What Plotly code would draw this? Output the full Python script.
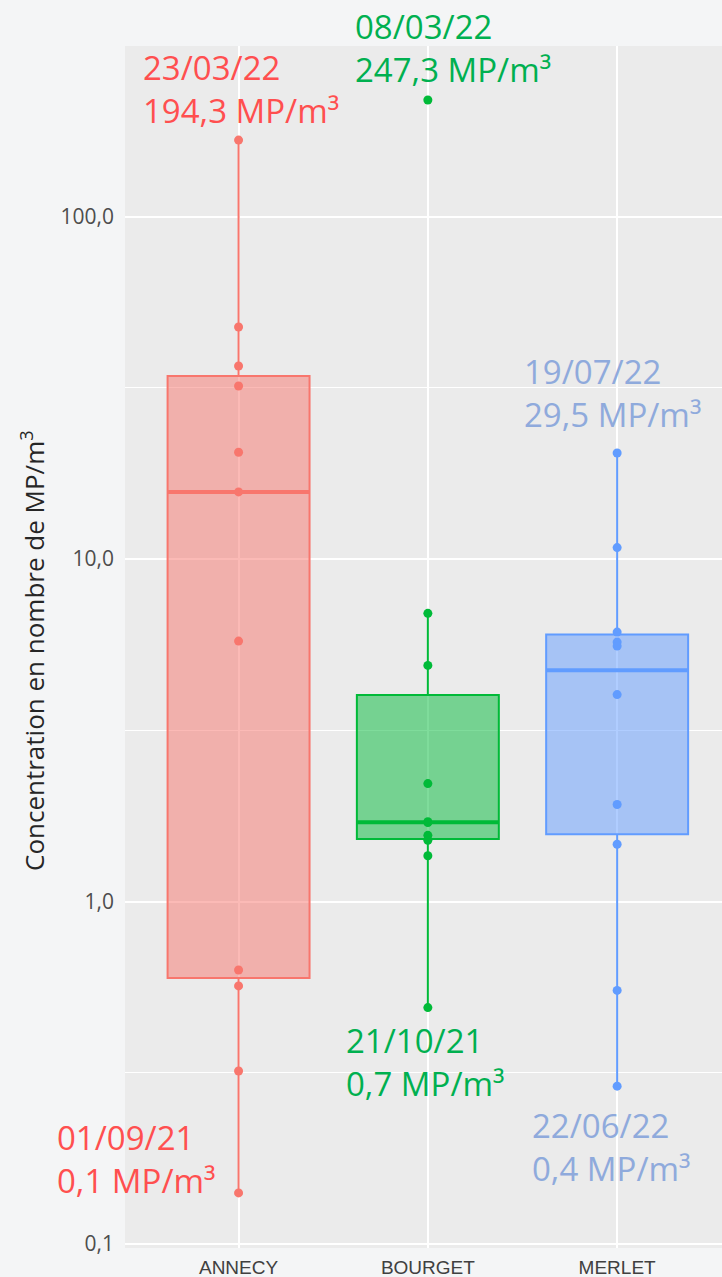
import numpy as np
import plotly.graph_objects as go

# ---- data ----
categories = ["ANNECY", "BOURGET", "MERLET"]
annecy = [167.2, 47.6, 36.6, 32.0, 20.5, 15.7, 5.76, 0.631, 0.567, 0.320, 0.141]
bourget = [218.9, 6.94, 4.89, 2.21, 1.71, 1.70, 1.56, 1.51, 1.36, 0.490]
merlet = [20.4, 10.8, 6.12, 5.72, 5.57, 4.02, 1.92, 1.47, 0.550, 0.289]
series = [annecy, bourget, merlet]

line_colors = ["#F8766D", "#00BA38", "#619CFF"]
fill_colors = ["rgba(248,118,109,0.5)", "rgba(0,186,56,0.5)", "rgba(97,156,255,0.5)"]

tick_vals = [0.1, 1, 10, 100]
tick_text = ["0,1", "1,0", "10,0", "100,0"]
minor_vals = [10 ** -0.5, 10 ** 0.5, 10 ** 1.5]

label_texts = [
    "23/03/22<br>194,3 MP/m³",
    "08/03/22<br>247,3 MP/m³",
    "19/07/22<br>29,5 MP/m³",
    "01/09/21<br>0,1 MP/m³",
    "21/10/21<br>0,7 MP/m³",
    "22/06/22<br>0,4 MP/m³",
]
label_colors = ["#FF4F4F", "#00B050", "#8FAADC", "#FF4F4F", "#00B050", "#8FAADC"]

# ---- layout geometry ----
W, H = 722, 1277
ML, MR, MT, MB = 125, 0, 46, 29
PW, PH = W - ML - MR, H - MT - MB


def px_x(px):
    return (px - ML) / PW


def px_y(py):
    return (H - MB - py) / PH


# label positions (left edge, vertical middle) in pixels
label_pos = [(141, 89), (353, 48), (522, 393), (55, 1159), (344, 1062), (530, 1147)]

fig = go.Figure()
shapes = []
for i, (cat, vals) in enumerate(zip(categories, series)):
    lv = np.log10(np.array(vals))
    q1, med, q3 = np.percentile(lv, [25, 50, 75])
    iqr = q3 - q1
    lo = lv[lv >= q1 - 1.5 * iqr].min()
    hi = lv[lv <= q3 + 1.5 * iqr].max()
    fig.add_trace(go.Box(
        x=[cat], q1=[10 ** q1], median=[10 ** med], q3=[10 ** q3],
        lowerfence=[10 ** lo], upperfence=[10 ** hi],
        width=0.75, whiskerwidth=0, boxpoints=False,
        line=dict(color=line_colors[i], width=2), fillcolor=fill_colors[i],
        showlegend=False, hoverinfo="skip",
    ))
    shapes.append(dict(type="line", xref="x", yref="y",
                       x0=i - 0.375, x1=i + 0.375, y0=10 ** med, y1=10 ** med,
                       line=dict(color=line_colors[i], width=4)))

for i, (cat, vals) in enumerate(zip(categories, series)):
    fig.add_trace(go.Scatter(
        x=[cat] * len(vals), y=vals, mode="markers",
        marker=dict(color=line_colors[i], size=9),
        showlegend=False,
    ))

annotations = []
for (lx, ly), txt, col in zip(label_pos, label_texts, label_colors):
    annotations.append(dict(
        xref="paper", yref="paper", x=px_x(lx), y=px_y(ly),
        xanchor="left", yanchor="middle", align="left", showarrow=False,
        text=txt, font=dict(family="Open Sans", size=33, color=col),
    ))

annotations.append(dict(
    xref="paper", yref="paper", x=px_x(33), y=px_y(651), xanchor="center", yanchor="middle",
    textangle=-90, showarrow=False,
    text="Concentration en nombre de MP/m<sup>3</sup>",
    font=dict(family="Open Sans", size=26, color="#262626"),
))

fig.update_layout(
    width=W, height=H,
    margin=dict(l=ML, r=MR, t=MT, b=MB),
    paper_bgcolor="#F4F5F6", plot_bgcolor="#EBEBEB",
    boxmode="overlay",
    shapes=shapes,
    annotations=annotations,
    xaxis=dict(
        type="category", categoryorder="array", categoryarray=categories,
        range=[-0.6, 2.554], showgrid=True, gridcolor="white", gridwidth=2,
        zeroline=False, showline=False, ticks="",
        tickfont=dict(family="Liberation Sans", size=19, color="#404040"),
        ticklabelstandoff=6,
    ),
    yaxis=dict(
        type="log", range=[-1.0117, 2.498],
        tickvals=tick_vals, ticktext=tick_text,
        showgrid=True, gridcolor="white", gridwidth=2,
        minor=dict(tickvals=minor_vals, showgrid=True, gridcolor="white", gridwidth=1, ticks=""),
        zeroline=False, showline=False, ticks="",
        tickfont=dict(family="Open Sans", size=21, color="#4D4D4D"),
        ticklabelstandoff=10,
    ),
)

fig.write_html(
    "out.html",
    config={"displayModeBar": False},
    post_script="document.body.style.margin='0';document.body.style.overflow='hidden';"
                "document.body.style.background='#F4F5F6';",
)
